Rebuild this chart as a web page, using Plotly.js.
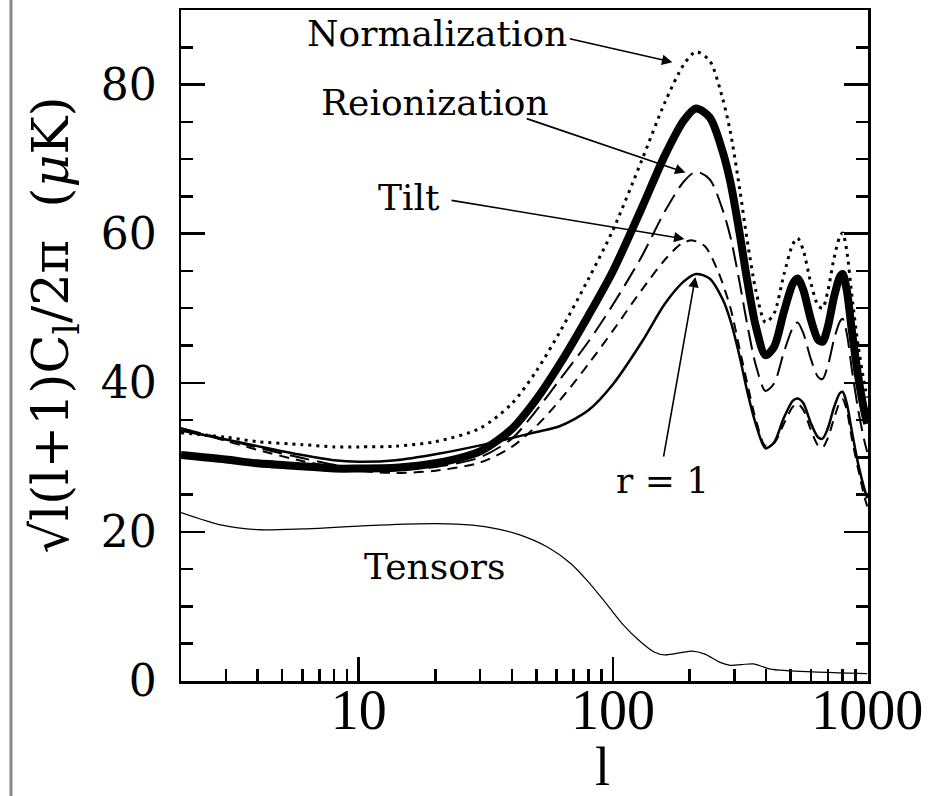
<!DOCTYPE html>
<html>
<head>
<meta charset="utf-8">
<script src="https://cdn.plot.ly/plotly-3.0.1.min.js"></script>
<style>
  html, body { margin: 0; padding: 0; background: #fff; }
  #plot { width: 940px; height: 796px; }
</style>
</head>
<body>
<div id="plot"></div>
<script>
// Multipole grid shared by the scalar-spectrum curves
var lGrid = [2,3,4,6,8,10,14,20,30,40,50,62,80,100,130,160,190,212,240,270,290,315,337,365,398,430,470,510,532,560,600,640,667,700,740,780,800,830,870,920,970,1000];

// Standard model (thick solid)
var standard = [30.3,29.7,29.2,28.8,28.5,28.5,28.6,29.2,30.8,33.8,37.8,42.6,49,55,63.5,70.5,75.2,76.8,75.6,71,66.8,60,53.8,47.5,43.7,44.8,49.5,53.3,54,52.5,48.5,45.8,45.5,47.5,51.5,54.2,54.6,52.5,47,41,36.5,34.5];

// Higher normalization (dotted)
var normalization = [33.3,32.7,32.1,31.7,31.4,31.4,31.5,32.1,33.9,37.2,41.6,46.9,53.9,60.5,69.9,77.6,82.7,84.4,83.2,78.1,73.5,66,59.2,52.3,48.1,49.3,54.5,58.6,59.4,57.8,53.4,50.4,50,52.3,56.7,59.6,60.1,57.8,51.7,45.1,40.2,38];

// Reionized model (long dashes)
var reionization = [33.9,32.4,31.3,29.9,29.0,28.6,28.4,28.7,30,32.5,36.3,40.5,45.5,50.5,57,63,67,68.3,67.3,63.2,59.5,53.4,47.9,42.3,38.9,39.9,44.1,47.4,48.1,46.7,43.2,40.8,40.5,42.3,45.8,48.2,48.6,46.7,41.8,36.5,32.5,30.7];

// Tensor-to-scalar ratio r = 1 (medium solid)
var ratioOne = [33.6,32.4,31.5,30.3,29.6,29.4,29.6,30.4,31.6,32.6,33.4,34.2,36.3,39.8,45.5,50.6,53.6,54.6,54,51.2,48.3,43.5,38.9,34.4,31.2,32,35.3,37.6,37.9,37.3,34.6,32.7,32.5,33.9,36.7,38.6,38.8,37.3,33.5,29.2,26,24.5];

// Tilted spectrum (short dashes)
var lTilt = [2,3,4,6,8,10,14,20,30,40,50,62,80,100,130,160,185,205,230,260,290,315,337,365,398,430,470,510,532,560,600,640,667,700,740,780,800,830,870,920,970,1000];
var tilt = [33.9,32.2,31.0,29.5,28.7,28.2,27.9,28.2,29.3,31.4,34.2,37.7,42.5,47,52.5,56.5,58.6,59.1,58.3,54.8,50,44.5,40,35,31.5,31.9,34.5,36.8,37.2,36.4,33.7,31.6,31.3,32.6,35.2,37.4,37.8,36.4,32.5,28.5,25,23.4];

// Tensor contribution (thin solid)
var lTensor = [2,2.9,4,6,8,12,20,28,35,43,55,68,80,95,110,128,145,160,185,205,230,260,290,320,357,390,416,480,580,700,850,1000];
var tensors = [22.6,20.9,20.3,20.4,20.6,20.9,21.1,20.9,20.4,19.6,18,15.8,13.3,10.2,7.5,5.3,3.9,3.5,3.8,4.0,3.6,2.6,2.1,2.2,2.3,1.9,1.6,1.4,1.25,1.15,1.05,1.0];

// Axis ticks
var xMajor = [10, 100, 1000];
var xMajorText = ['10', '100', '1000'];
var xMinor = [2,3,4,5,6,7,8,9,20,30,40,50,60,70,80,90,200,300,400,500,600,700,800,900];
var yMajor = [0, 20, 40, 60, 80];
var yMajorText = ['0', '20', '40', '60', '80'];

function curve(x, y, line) {
  return { x: x, y: y, type: 'scatter', mode: 'lines',
           line: Object.assign({ color: '#000', shape: 'spline', smoothing: 0.8 }, line),
           hoverinfo: 'skip', showlegend: false };
}

var traces = [
  curve(lTensor, tensors, { width: 1.2 }),
  curve(lGrid, ratioOne, { width: 2.5 }),
  curve(lTilt, tilt, { width: 2, dash: '10px,7px' }),
  curve(lGrid, reionization, { width: 2, dash: '20px,8px' }),
  curve(lGrid, normalization, { width: 3, dash: '3px,5px' }),
  curve(lGrid, standard, { width: 8 })
];

var serif = 'DejaVu Serif, serif';
var labelFont = { family: serif, size: 36, color: '#000' };

function label(text, lx, y) {
  return { text: text, x: lx, y: y, xref: 'x', yref: 'y', showarrow: false,
           xanchor: 'center', yanchor: 'middle', font: labelFont };
}
function arrow(hx, hy, tx, ty) {
  return { text: '', x: hx, y: hy, ax: tx, ay: ty, xref: 'x', yref: 'y',
           axref: 'x', ayref: 'y', showarrow: true, arrowhead: 2,
           arrowsize: 1.3, arrowwidth: 1.6, arrowcolor: '#000', standoff: 0, startstandoff: 0 };
}

var layout = {
  width: 940, height: 796,
  margin: { l: 181, r: 72, t: 10, b: 115 },
  paper_bgcolor: '#fff', plot_bgcolor: '#fff',
  xaxis: {
    type: 'log', range: [Math.log10(2), 3.003],
    showgrid: false, zeroline: false,
    showline: true, linecolor: '#000', linewidth: 2.5, mirror: true,
    tickmode: 'array', tickvals: xMajor, ticktext: xMajorText,
    ticks: 'inside', ticklen: 24, tickwidth: 2.5, tickcolor: '#000',
    ticklabelstandoff: -22,
    tickfont: { family: 'Liberation Serif, serif', size: 56, color: '#000' },
    minor: { tickmode: 'array', tickvals: xMinor, ticks: 'inside', ticklen: 12, tickwidth: 2.5, tickcolor: '#000', showgrid: false }
  },
  yaxis: {
    range: [0, 90],
    showgrid: false, zeroline: false,
    showline: true, linecolor: '#000', linewidth: 2.5, mirror: 'allticks',
    tickmode: 'array', tickvals: yMajor, ticktext: yMajorText,
    ticks: 'inside', ticklen: 24, tickwidth: 2.5, tickcolor: '#000',
    ticklabelstandoff: 13,
    tickfont: { family: serif, size: 44, color: '#000' },
    minor: { tickmode: 'linear', tick0: 0, dtick: 5, ticks: 'inside', ticklen: 12, tickwidth: 2.5, tickcolor: '#000', showgrid: false }
  },
  annotations: [
    label('Normalization', 1.308, 86.9),
    label('Reionization', 1.300, 77.6),
    label('Tilt', 1.198, 64.9),
    label('r = 1', 2.194, 26.9),
    label('Tensors', 1.300, 15.3),
    arrow(2.2335, 83.0, 1.824, 86.2),
    arrow(2.285, 68.2, 1.655, 75.5),
    arrow(2.281, 59.3, 1.359, 64.5),
    arrow(2.324, 54.2, 2.198, 29.9),
    { text: 'l', xref: 'paper', yref: 'paper', x: 0.613, y: -0.128,
      xanchor: 'center', yanchor: 'middle', showarrow: false,
      font: { family: 'Liberation Serif, serif', size: 54, color: '#000' } },
    { text: '\u221Al(l+1)C<sub>l</sub>/2\u03C0\u00A0\u00A0(<i>\u03BC</i>K)', xref: 'paper', yref: 'paper',
      x: -0.185, y: 0.531, xanchor: 'center', yanchor: 'middle', textangle: -90, showarrow: false,
      font: { family: serif, size: 51, color: '#000' } }
  ],
  shapes: [
    { type: 'line', xref: 'paper', yref: 'paper', x0: -0.2475, x1: -0.2475, y0: -0.2, y1: 1.05,
      line: { color: '#888', width: 3 } }
  ]
};

Plotly.newPlot('plot', traces, layout, { staticPlot: true, displayModeBar: false });
</script>
</body>
</html>
